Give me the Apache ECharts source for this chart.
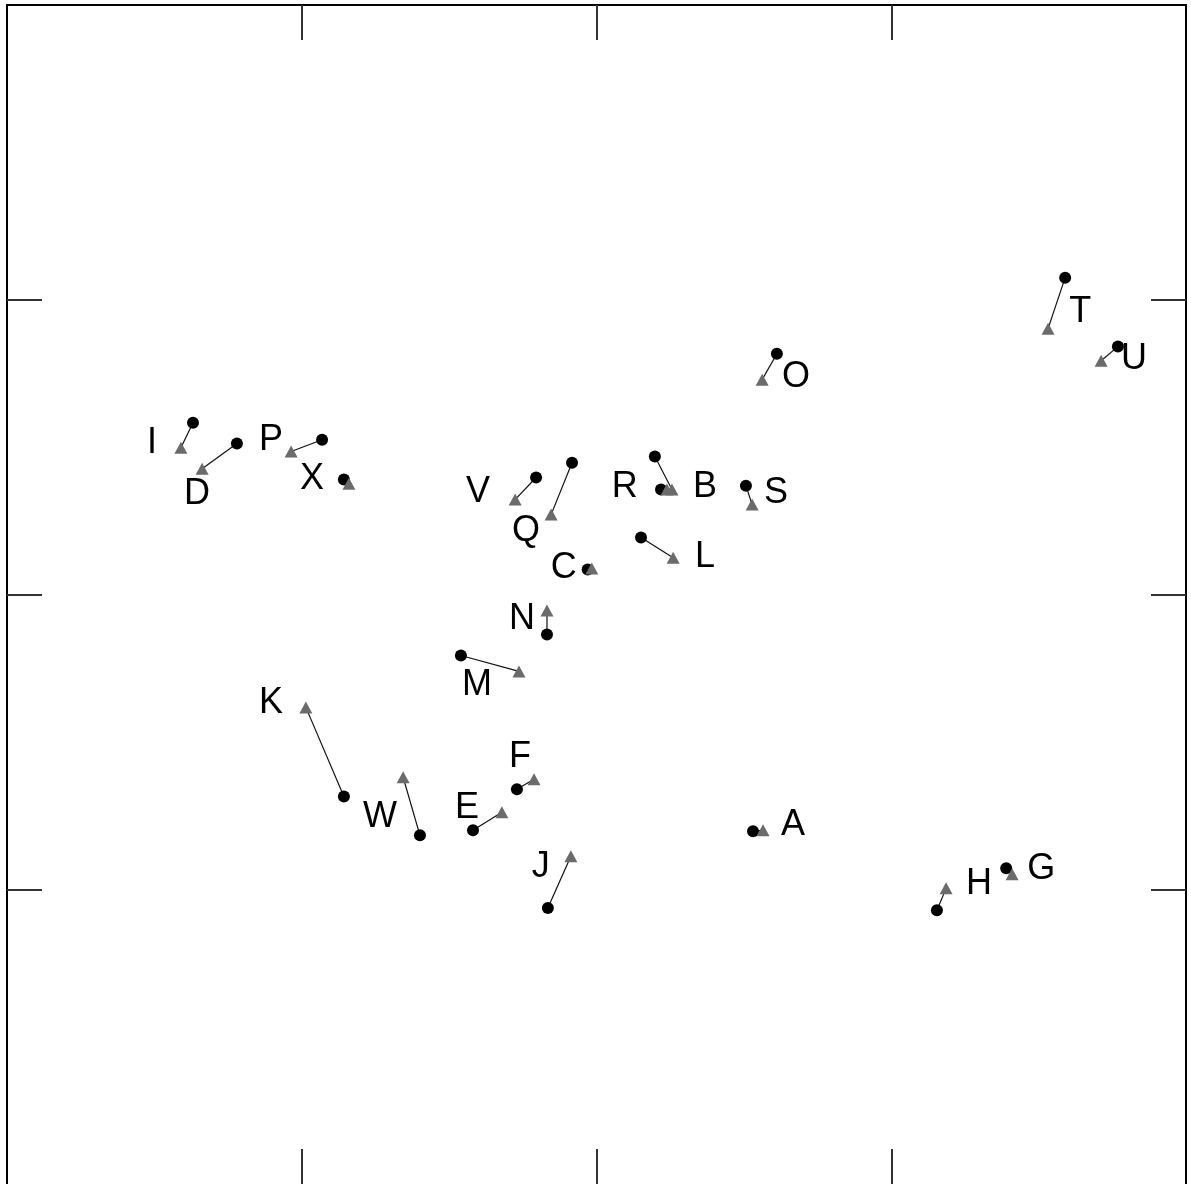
<!DOCTYPE html>
<html>
<head>
<meta charset="utf-8">
<script src="https://cdn.jsdelivr.net/npm/echarts@6/dist/echarts.min.js"></script>
<style>
  html, body { margin: 0; padding: 0; background: #ffffff; }
  #chart { width: 1191px; height: 1184px; }
</style>
</head>
<body>
<div id="chart"></div>
<script>
// Item labels
const letters = ['A','B','C','D','E','F','G','H','I','J','K','L','M','N','O','P','Q','R','S','T','U','V','W','X'];

// Start position of each item (black dot)
const startX = [1.531, 1.219, 0.970, -0.220, 0.581, 0.730, 2.390, 2.155, -0.369, 0.835, 0.143, 1.151, 0.540, 0.832, 1.612, 0.069, 0.917, 1.198, 1.507, 2.590, 2.769, 0.795, 0.401, 0.143];
const startY = [-0.803, 0.356, 0.085, 0.512, -0.800, -0.661, -0.929, -1.071, 0.583, -1.064, -0.685, 0.193, -0.207, -0.136, 0.817, 0.525, 0.447, 0.468, 0.369, 1.075, 0.841, 0.397, -0.817, 0.390];

// End position of each item (grey triangle)
const endX = [1.565, 1.239, 0.984, -0.338, 0.679, 0.788, 2.410, 2.186, -0.410, 0.913, 0.014, 1.260, 0.737, 0.832, 1.562, -0.036, 0.846, 1.256, 1.528, 2.532, 2.712, 0.724, 0.344, 0.160];
const endY = [-0.800, 0.356, 0.088, 0.427, -0.739, -0.627, -0.949, -0.997, 0.498, -0.888, -0.383, 0.125, -0.261, -0.054, 0.729, 0.485, 0.271, 0.356, 0.305, 0.902, 0.793, 0.322, -0.620, 0.376];

// Axis ranges and the inner tick positions (no tick labels are drawn)
const xRange = [-1, 3];
const yRange = [-2, 2];
const xTicks = [0, 1, 2];
const yTicks = [-1, 0, 1];
const tickStep = 1;

// Pixel offsets of each letter relative to its black dot
const labelOffset = {
  A: [40, -6], B: [44, -2], C: [-24, -1], D: [-40, 50], E: [-6, -22], F: [3, -32],
  G: [35, 1], H: [42, -26], I: [-41, 20], J: [-7, -41], K: [-73, -93], L: [64, 19],
  M: [16, 30], N: [-25, -16], O: [19, 23], P: [-51, 0], Q: [-46, 68], R: [-30, 31],
  S: [30, 7], T: [15, 34], U: [16, 12], V: [-58, 15], W: [-40, -18], X: [-32, 0]
};

const segments = letters.map((l, i) => [startX[i], startY[i], endX[i], endY[i]]);
const dots = letters.map((l, i) => ({
  value: [startX[i], startY[i]],
  name: l,
  label: { offset: labelOffset[l] }
}));
const tris = letters.map((l, i) => [endX[i], endY[i]]);

function frameAxis(extra, ticks, showLine) {
  return Object.assign({
    type: 'value',
    interval: tickStep,
    axisLine: { show: showLine !== false, onZero: false, lineStyle: { color: '#000', width: 2 } },
    axisTick: { show: true, inside: true, length: 35, customValues: ticks, lineStyle: { color: '#333', width: 2 } },
    axisLabel: { show: false },
    splitLine: { show: false }
  }, extra);
}

const chart = echarts.init(document.getElementById('chart'), null, { renderer: 'canvas' });
chart.setOption({
  animation: false,
  backgroundColor: '#ffffff',
  grid: { left: 7, top: 5, width: 1179, height: 1181 },
  xAxis: [
    // bottom edge of the frame falls just past the canvas, only its ticks show
    frameAxis({ position: 'bottom', min: xRange[0], max: xRange[1] }, xTicks, false),
    frameAxis({ position: 'top', min: xRange[0], max: xRange[1] }, xTicks)
  ],
  yAxis: [
    frameAxis({ position: 'left', min: yRange[0], max: yRange[1] }, yTicks),
    frameAxis({ position: 'right', min: yRange[0], max: yRange[1] }, yTicks)
  ],
  series: [
    {
      // connecting segment from start to end
      type: 'custom',
      data: segments,
      renderItem: function (params, api) {
        const p1 = api.coord([api.value(0), api.value(1)]);
        const p2 = api.coord([api.value(2), api.value(3)]);
        return {
          type: 'line',
          shape: { x1: p1[0], y1: p1[1], x2: p2[0], y2: p2[1] },
          style: { stroke: '#111', lineWidth: 1.2 }
        };
      },
      silent: true,
      z: 1
    },
    {
      type: 'scatter',
      data: dots,
      symbol: 'circle',
      symbolSize: 12,
      itemStyle: { color: '#000', opacity: 1 },
      label: {
        show: true,
        position: 'inside',
        formatter: '{b}',
        color: '#000',
        fontFamily: 'Liberation Sans, Arial, sans-serif',
        fontSize: 36
      },
      z: 2
    },
    {
      type: 'scatter',
      data: tris,
      symbol: 'triangle',
      symbolSize: [13, 12],
      itemStyle: { color: '#6b6b6b', opacity: 1 },
      z: 3
    }
  ]
});
</script>
</body>
</html>
